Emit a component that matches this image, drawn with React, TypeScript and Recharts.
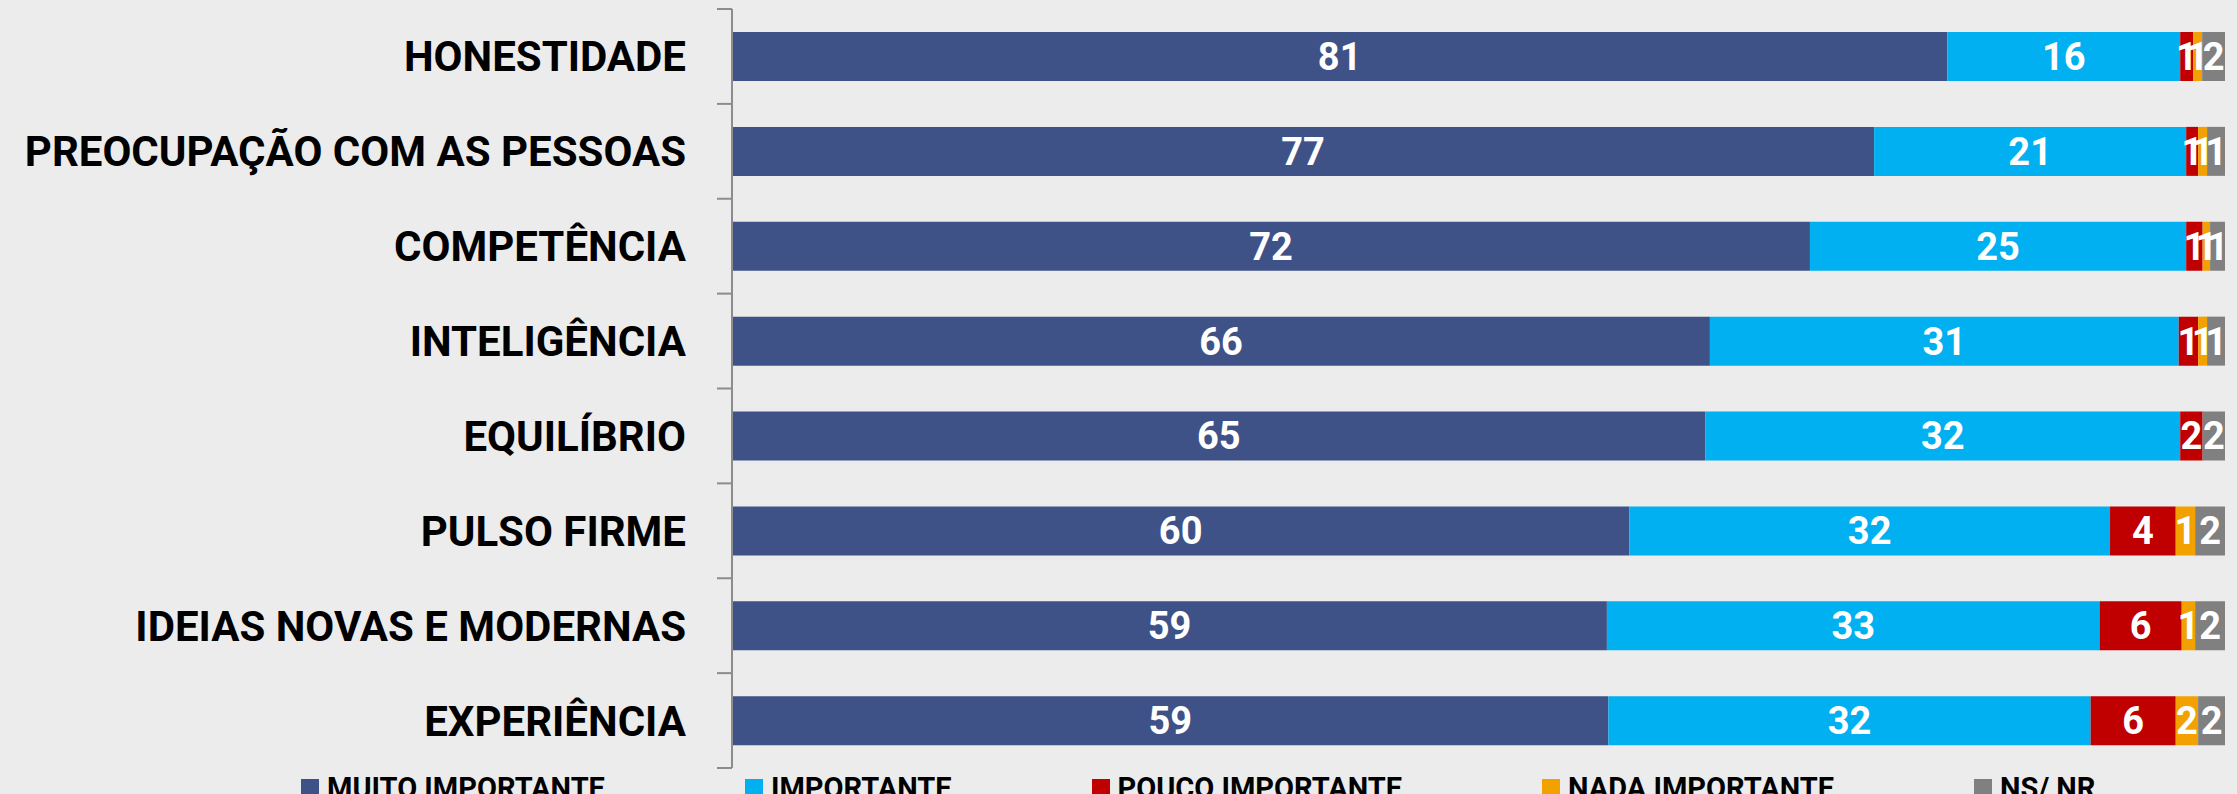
import React from 'react';
import { BarChart, Bar, XAxis, YAxis, Legend, LabelList } from 'recharts';

const categories = [
  'HONESTIDADE',
  'PREOCUPAÇÃO COM AS PESSOAS',
  'COMPETÊNCIA',
  'INTELIGÊNCIA',
  'EQUILÍBRIO',
  'PULSO FIRME',
  'IDEIAS NOVAS E MODERNAS',
  'EXPERIÊNCIA',
];
const muitoImportante = [81.4, 76.5, 72.2, 65.5, 65.2, 60.1, 58.6, 58.7];
const importante = [15.6, 20.9, 25.2, 31.4, 31.8, 32.2, 33.0, 32.3];
const poucoImportante = [0.87, 0.8, 1.1, 1.3, 1.5, 4.4, 5.5, 5.7];
const nadaImportante = [0.6, 0.6, 0.5, 0.6, 0, 1.3, 0.9, 1.5];
const nsNr = [1.53, 1.2, 1.0, 1.2, 1.5, 2.0, 2.0, 1.8];

const SERIES = [
  { key: 'muito', name: 'MUITO IMPORTANTE', color: '#3F5287' },
  { key: 'importante', name: 'IMPORTANTE', color: '#00B0F0' },
  { key: 'pouco', name: 'POUCO IMPORTANTE', color: '#C00000' },
  { key: 'nada', name: 'NADA IMPORTANTE', color: '#F2A100' },
  { key: 'nsnr', name: 'NS/ NR', color: '#808080' },
];

const data = categories.map((name, i) => ({
  name,
  muito: muitoImportante[i],
  importante: importante[i],
  pouco: poucoImportante[i],
  nada: nadaImportante[i],
  nsnr: nsNr[i],
}));

const WIDTH = 2237;
const HEIGHT = 810;
const MARGIN = { top: 9, right: 12, left: 0, bottom: 2 };
const LEGEND_H = 40;
const BAND = (HEIGHT - MARGIN.top - MARGIN.bottom - LEGEND_H) / categories.length;
const FONT = 'Roboto, "Noto Sans", sans-serif';
const AXIS_COLOR = '#8C8C8C';

const TICK_SIZE = 15;
const TICK_MARGIN = 31;

// category label plus a tick mark at the band boundary (like Excel)
function CategoryTick(props: any) {
  const { x, y, payload, index } = props;
  const axisX = x + TICK_MARGIN + TICK_SIZE;
  const isLast = index === categories.length - 1;
  return (
    <g>
      <text
        x={x}
        y={y + 15}
        textAnchor="end"
        fill="#000"
        fontFamily={FONT}
        fontWeight={700}
        fontSize={42}
      >
        {payload.value}
      </text>
      <line x1={axisX - TICK_SIZE} x2={axisX} y1={y - BAND / 2} y2={y - BAND / 2} stroke={AXIS_COLOR} strokeWidth={2} />
      {isLast && (
        <line x1={axisX - TICK_SIZE} x2={axisX} y1={y + BAND / 2} y2={y + BAND / 2} stroke={AXIS_COLOR} strokeWidth={2} />
      )}
    </g>
  );
}

function renderLegend() {
  return (
    <div style={{ display: 'flex', alignItems: 'center', height: LEGEND_H, paddingLeft: 301 }}>
      {SERIES.map((s) => (
        <div key={s.key} style={{ display: 'flex', alignItems: 'center', marginRight: 140 }}>
          <span style={{ width: 18, height: 18, background: s.color, marginRight: 8, display: 'inline-block' }} />
          <span style={{ fontFamily: FONT, fontWeight: 700, fontSize: 29, color: '#000', lineHeight: '34px' }}>
            {s.name}
          </span>
        </div>
      ))}
    </div>
  );
}

const labelFormatter = (v: any) => (v > 0 ? String(Math.round(v)) : '');

export default function App() {
  return (
    <div style={{ position: 'absolute', left: 0, top: 0, width: WIDTH, height: HEIGHT, background: '#ECECEC' }}>
      <BarChart width={WIDTH} height={HEIGHT} data={data} layout="vertical" margin={MARGIN}>
        <XAxis type="number" domain={[0, 100]} hide />
        <YAxis
          type="category"
          dataKey="name"
          width={732}
          tick={<CategoryTick />}
          tickLine={false}
          tickSize={TICK_SIZE}
          tickMargin={TICK_MARGIN}
          axisLine={{ stroke: AXIS_COLOR, strokeWidth: 2 }}
          interval={0}
        />
        <Legend verticalAlign="bottom" content={renderLegend} wrapperStyle={{ left: 0, width: WIDTH }} />
        {SERIES.map((s) => (
          <Bar key={s.key} dataKey={s.key} name={s.name} stackId="a" fill={s.color} barSize={49} isAnimationActive={false}>
            <LabelList
              dataKey={s.key}
              position="center"
              formatter={labelFormatter}
              fill="#FFFFFF"
              fontFamily={FONT}
              fontWeight={700}
              fontSize={38}
            />
          </Bar>
        ))}
      </BarChart>
    </div>
  );
}
